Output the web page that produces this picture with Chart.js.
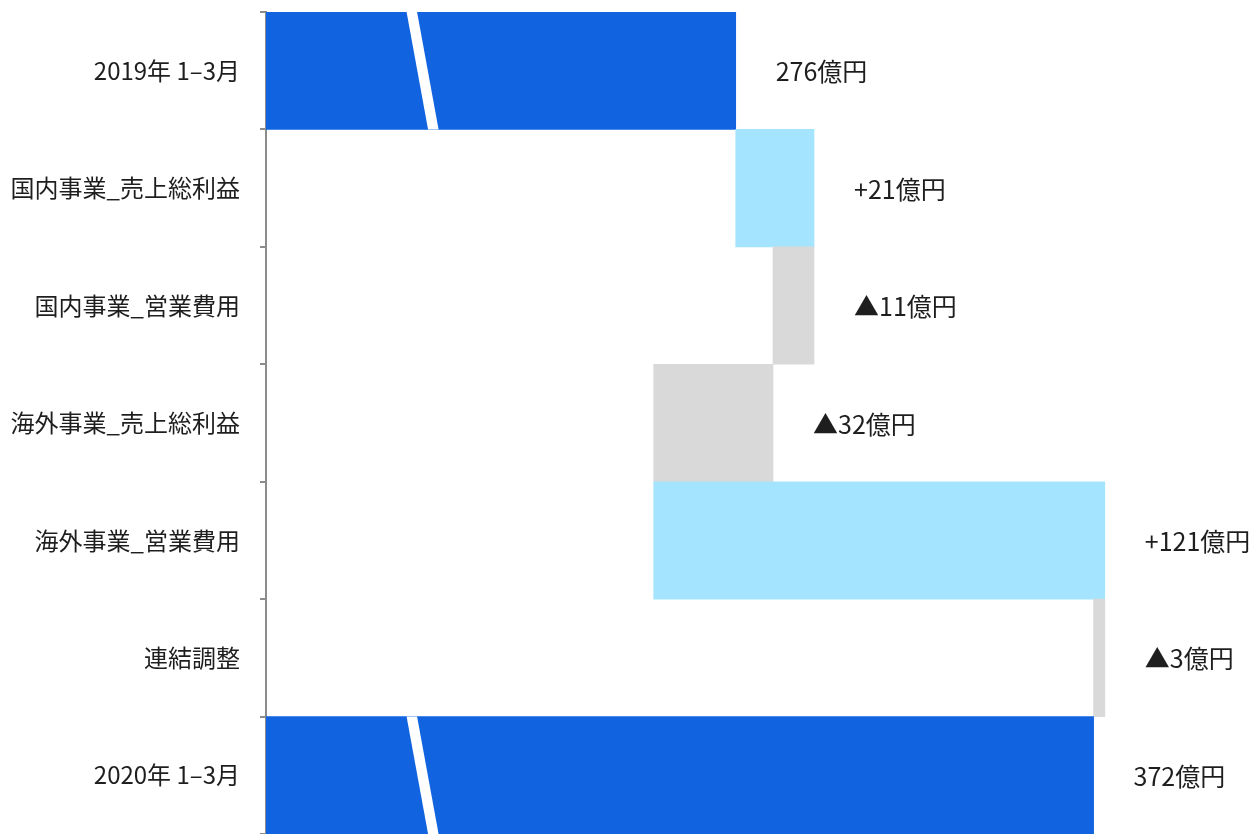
<!DOCTYPE html>
<html>
<head>
  <title>Waterfall</title>
  <script src="https://cdn.jsdelivr.net/npm/chart.js"></script>
  <style>
    body { margin: 0; background: #fff; }
    canvas { display: block; }
  </style>
</head>
<body>
  <canvas id="chart_wf" width="1252" height="834"></canvas>

  <script>
    // categories and values (億円)
    const categories = ['2019年 1–3月', '国内事業_売上総利益', '国内事業_営業費用', '海外事業_売上総利益', '海外事業_営業費用', '連結調整', '2020年 1–3月'];
    const startTotal = 276;
    const changes = [21, -11, -32, 121, -3];
    const endTotal = 372;

    // axis is broken, it starts at 150
    const axisMin = 150;
    const axisMax = 400;
    const breakValue = 192;

    const colTotal = '#1163e0';
    const colUp = '#a5e4ff';
    const colDown = '#d9d9d9';
    const font = '"Noto Sans CJK JP", "Noto Sans", sans-serif';

    // build the floating bars from the changes
    const bars = [[0, startTotal]];
    const colors = [colTotal];
    const labels = [startTotal + '億円'];
    let running = startTotal;
    changes.forEach(function(c) {
      bars.push([running, running + c]);
      running += c;
      colors.push(c >= 0 ? colUp : colDown);
      labels.push(c >= 0 ? '+' + c + '億円' : '▲' + (-c) + '億円');
    });
    bars.push([0, endTotal]);
    colors.push(colTotal);
    labels.push(endTotal + '億円');

    // value labels + the white break marks on the total bars
    const extras = {
      id: 'extras',
      afterDatasetsDraw(chart) {
        const ctx = chart.ctx;
        const meta = chart.getDatasetMeta(0);
        const x = chart.scales.x;
        ctx.save();
        meta.data.forEach(function(bar, i) {
          const half = bar.height / 2;
          const top = bar.y - half;
          const bottom = bar.y + half;
          if (i === 0 || i === meta.data.length - 1) {
            const cx = x.getPixelForValue(breakValue);
            ctx.fillStyle = '#fff';
            ctx.beginPath();
            ctx.moveTo(cx - 16, top);
            ctx.lineTo(cx - 5.5, top);
            ctx.lineTo(cx + 16, bottom);
            ctx.lineTo(cx + 5.5, bottom);
            ctx.closePath();
            ctx.fill();
          }
          const right = Math.max(bar.x, bar.base);
          ctx.fillStyle = '#1e1e1e';
          ctx.font = '25px ' + font;
          ctx.textAlign = 'left';
          ctx.textBaseline = 'middle';
          ctx.fillText(labels[i], right + 40, bar.y + 1);
        });
        ctx.restore();
      }
    };

    const chart = new Chart(document.getElementById('chart_wf').getContext('2d'), {
      type: 'bar',
      data: {
        labels: categories,
        datasets: [{
          data: bars,
          backgroundColor: colors,
          borderWidth: 0,
          barPercentage: 1,
          categoryPercentage: 1
        }]
      },
      options: {
        indexAxis: 'y',
        responsive: false,
        animation: false,
        layout: { padding: { top: 12, right: 54, bottom: 0, left: 0 } },
        plugins: {
          legend: { display: false },
          tooltip: { enabled: false }
        },
        scales: {
          x: {
            display: false,
            min: axisMin,
            max: axisMax
          },
          y: {
            z: 1,
            afterFit(scale) {
              scale.width = 266;
              scale.paddingTop = 0;
              scale.paddingBottom = 0;
            },
            border: { color: '#8c8c8c', width: 2 },
            grid: {
              drawOnChartArea: false,
              tickLength: 6,
              color: '#8c8c8c',
              lineWidth: 2
            },
            ticks: {
              padding: 20,
              color: '#1e1e1e',
              font: { family: font, size: 24 }
            }
          }
        }
      },
      plugins: [extras]
    });
  </script>
</body>
</html>
